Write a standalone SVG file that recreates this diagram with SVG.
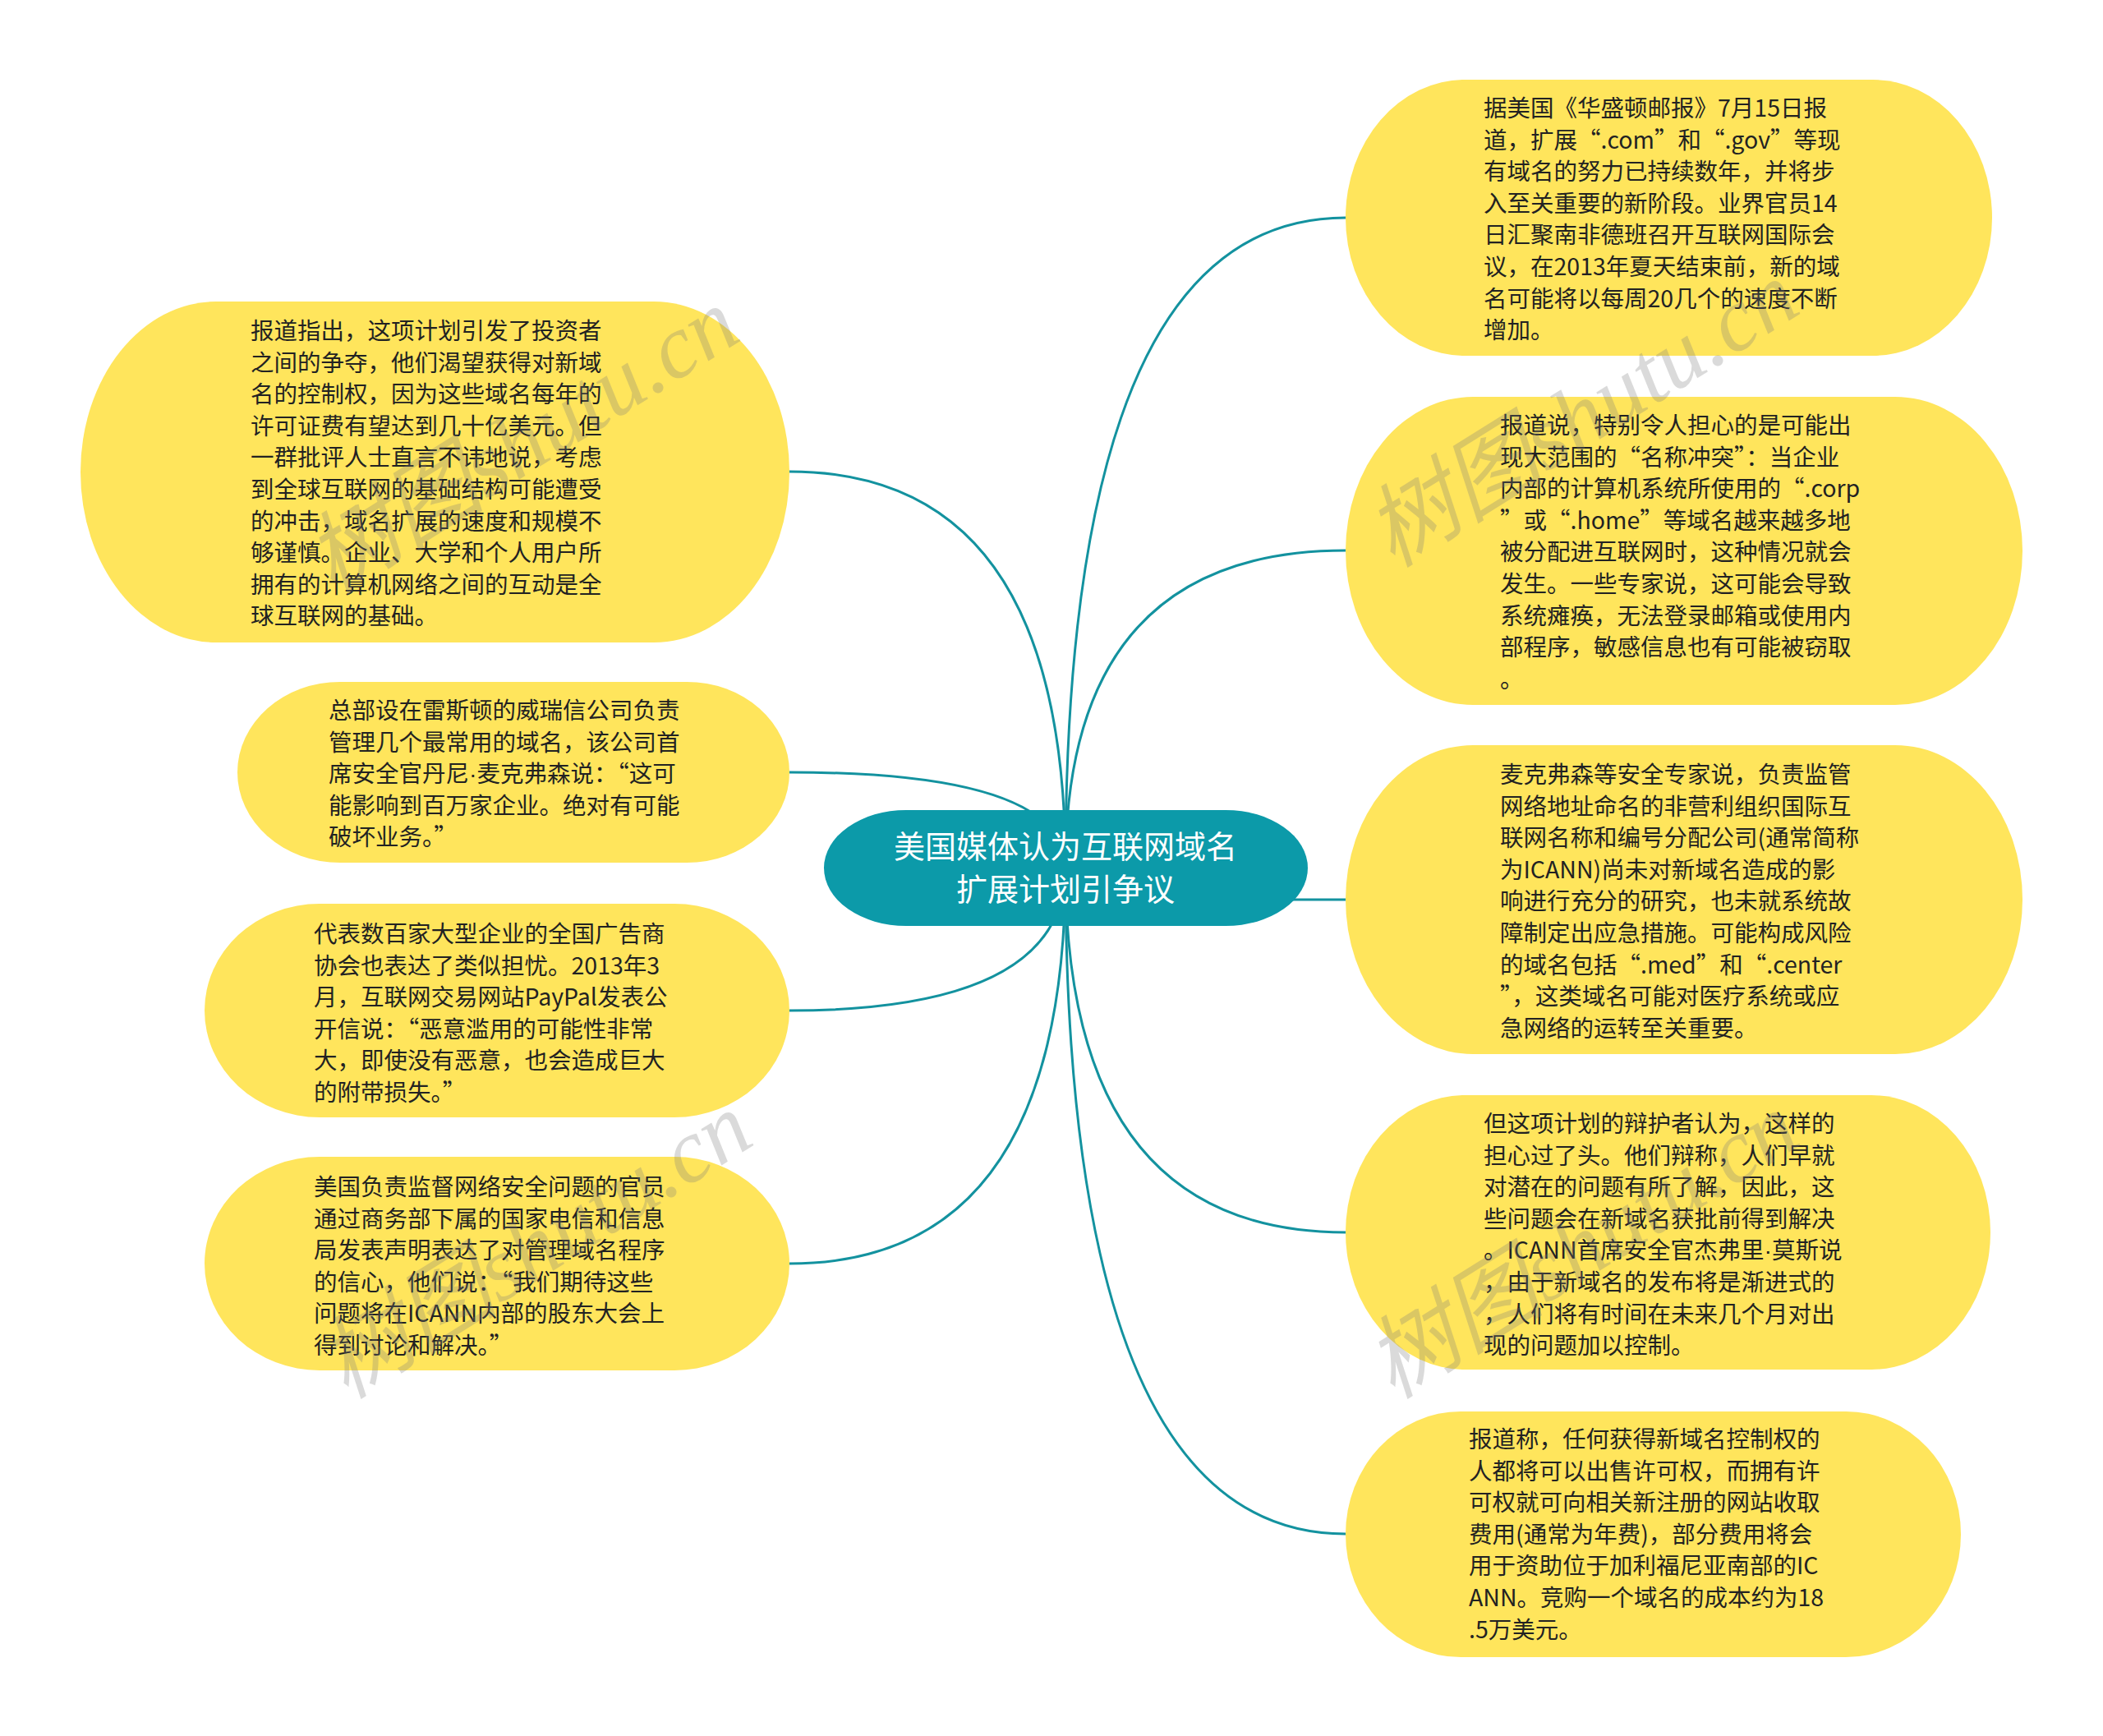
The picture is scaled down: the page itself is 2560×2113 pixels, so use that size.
<svg xmlns="http://www.w3.org/2000/svg" width="2560" height="2113" viewBox="0 0 2560 2113">
<style>
.bg{fill:#ffffff}
.edge{fill:none;stroke:#13929F;stroke-width:3}
.leaf{fill:#FFE55C}
.root{fill:#0C9AA9}
.t{font-family:"Noto Sans CJK SC","Microsoft YaHei",sans-serif;font-size:28.5px;fill:#222222}
.dot{font-family:"Liberation Sans",sans-serif}
.rt{font-family:"Noto Sans CJK SC","Microsoft YaHei",sans-serif;font-size:38px;fill:#ffffff;text-anchor:middle}
.wm{font-family:"Liberation Serif","Noto Sans CJK SC",serif;font-style:italic;font-size:110px;fill:#7a7a7a;fill-opacity:0.28}
</style>
<rect class="bg" x="0" y="0" width="2560" height="2113"/>
<g id="connectors">
<path class="edge" d="M1297 1056 Q1297 265 1638 265"/>
<path class="edge" d="M1297 1056 Q1297 670 1638 670"/>
<path class="edge" d="M1297 1095 L1638 1095"/>
<path class="edge" d="M1297 1056 Q1297 1500 1638 1500"/>
<path class="edge" d="M1297 1056 Q1297 1867 1638 1867"/>
<path class="edge" d="M1297 1056 Q1297 574 961 574"/>
<path class="edge" d="M1297 1056 Q1297 940 961 940"/>
<path class="edge" d="M1297 1056 Q1297 1230 961 1230"/>
<path class="edge" d="M1297 1056 Q1297 1538 961 1538"/>
</g>
<g id="root">
<rect class="root" x="1003" y="986" width="589" height="141" rx="100" ry="70.5"/>
<text class="rt" x="1297" y="1044">美国媒体认为互联网域名</text>
<text class="rt" x="1297" y="1096">扩展计划引争议</text>
</g>
<g id="r1">
<rect class="leaf" x="1638" y="97" width="787" height="336" rx="145" ry="168"/>
<text class="t"><tspan x="1806" y="142">据美国《华盛顿邮报》7月15日报</tspan><tspan x="1806" y="180.6">道，扩展“.com”和“.gov”等现</tspan><tspan x="1806" y="219.2">有域名的努力已持续数年，并将步</tspan><tspan x="1806" y="257.8">入至关重要的新阶段。业界官员14</tspan><tspan x="1806" y="296.4">日汇聚南非德班召开互联网国际会</tspan><tspan x="1806" y="335">议，在2013年夏天结束前，新的域</tspan><tspan x="1806" y="373.6">名可能将以每周20几个的速度不断</tspan><tspan x="1806" y="412.2">增加。</tspan></text>
</g>
<g id="r2">
<rect class="leaf" x="1638" y="483" width="824" height="375" rx="155" ry="187.5"/>
<text class="t"><tspan x="1826" y="528">报道说，特别令人担心的是可能出</tspan><tspan x="1826" y="566.6">现大范围的“名称冲突”：当企业</tspan><tspan x="1826" y="605.2">内部的计算机系统所使用的“.corp</tspan><tspan x="1826" y="643.8">”或“.home”等域名越来越多地</tspan><tspan x="1826" y="682.4">被分配进互联网时，这种情况就会</tspan><tspan x="1826" y="721">发生。一些专家说，这可能会导致</tspan><tspan x="1826" y="759.6">系统瘫痪，无法登录邮箱或使用内</tspan><tspan x="1826" y="798.2">部程序，敏感信息也有可能被窃取</tspan><tspan x="1826" y="836.8">。</tspan></text>
</g>
<g id="r3">
<rect class="leaf" x="1638" y="907" width="824" height="376" rx="155" ry="188"/>
<text class="t"><tspan x="1826" y="953">麦克弗森等安全专家说，负责监管</tspan><tspan x="1826" y="991.6">网络地址命名的非营利组织国际互</tspan><tspan x="1826" y="1030.2">联网名称和编号分配公司(通常简称</tspan><tspan x="1826" y="1068.8">为ICANN)尚未对新域名造成的影</tspan><tspan x="1826" y="1107.4">响进行充分的研究，也未就系统故</tspan><tspan x="1826" y="1146">障制定出应急措施。可能构成风险</tspan><tspan x="1826" y="1184.6">的域名包括“.med”和“.center</tspan><tspan x="1826" y="1223.2">”，这类域名可能对医疗系统或应</tspan><tspan x="1826" y="1261.8">急网络的运转至关重要。</tspan></text>
</g>
<g id="r4">
<rect class="leaf" x="1638" y="1333" width="785" height="334" rx="145" ry="167"/>
<text class="t"><tspan x="1806" y="1378">但这项计划的辩护者认为，这样的</tspan><tspan x="1806" y="1416.6">担心过了头。他们辩称，人们早就</tspan><tspan x="1806" y="1455.2">对潜在的问题有所了解，因此，这</tspan><tspan x="1806" y="1493.8">些问题会在新域名获批前得到解决</tspan><tspan x="1806" y="1532.4">。ICANN首席安全官杰弗里<tspan class="dot">·</tspan>莫斯说</tspan><tspan x="1806" y="1571">，由于新域名的发布将是渐进式的</tspan><tspan x="1806" y="1609.6">，人们将有时间在未来几个月对出</tspan><tspan x="1806" y="1648.2">现的问题加以控制。</tspan></text>
</g>
<g id="r5">
<rect class="leaf" x="1638" y="1718" width="749" height="299" rx="140" ry="149.5"/>
<text class="t"><tspan x="1788" y="1762">报道称，任何获得新域名控制权的</tspan><tspan x="1788" y="1800.6">人都将可以出售许可权，而拥有许</tspan><tspan x="1788" y="1839.2">可权就可向相关新注册的网站收取</tspan><tspan x="1788" y="1877.8">费用(通常为年费)，部分费用将会</tspan><tspan x="1788" y="1916.4">用于资助位于加利福尼亚南部的IC</tspan><tspan x="1788" y="1955">ANN。竞购一个域名的成本约为18</tspan><tspan x="1788" y="1993.6">.5万美元。</tspan></text>
</g>
<g id="l1">
<rect class="leaf" x="98" y="367" width="863" height="415" rx="165" ry="207.5"/>
<text class="t"><tspan x="305" y="413">报道指出，这项计划引发了投资者</tspan><tspan x="305" y="451.6">之间的争夺，他们渴望获得对新域</tspan><tspan x="305" y="490.2">名的控制权，因为这些域名每年的</tspan><tspan x="305" y="528.8">许可证费有望达到几十亿美元。但</tspan><tspan x="305" y="567.4">一群批评人士直言不讳地说，考虑</tspan><tspan x="305" y="606">到全球互联网的基础结构可能遭受</tspan><tspan x="305" y="644.6">的冲击，域名扩展的速度和规模不</tspan><tspan x="305" y="683.2">够谨慎。企业、大学和个人用户所</tspan><tspan x="305" y="721.8">拥有的计算机网络之间的互动是全</tspan><tspan x="305" y="760.4">球互联网的基础。</tspan></text>
</g>
<g id="l2">
<rect class="leaf" x="289" y="830" width="672" height="220" rx="125" ry="110"/>
<text class="t"><tspan x="400" y="875">总部设在雷斯顿的威瑞信公司负责</tspan><tspan x="400" y="913.6">管理几个最常用的域名，该公司首</tspan><tspan x="400" y="952.2">席安全官丹尼<tspan class="dot">·</tspan>麦克弗森说：“这可</tspan><tspan x="400" y="990.8">能影响到百万家企业。绝对有可能</tspan><tspan x="400" y="1029.4">破坏业务。”</tspan></text>
</g>
<g id="l3">
<rect class="leaf" x="249" y="1100" width="712" height="260" rx="140" ry="130"/>
<text class="t"><tspan x="382" y="1147">代表数百家大型企业的全国广告商</tspan><tspan x="382" y="1185.6">协会也表达了类似担忧。2013年3</tspan><tspan x="382" y="1224.2">月，互联网交易网站PayPal发表公</tspan><tspan x="382" y="1262.8">开信说：“恶意滥用的可能性非常</tspan><tspan x="382" y="1301.4">大，即使没有恶意，也会造成巨大</tspan><tspan x="382" y="1340">的附带损失。”</tspan></text>
</g>
<g id="l4">
<rect class="leaf" x="249" y="1408" width="712" height="260" rx="140" ry="130"/>
<text class="t"><tspan x="382" y="1455">美国负责监督网络安全问题的官员</tspan><tspan x="382" y="1493.6">通过商务部下属的国家电信和信息</tspan><tspan x="382" y="1532.2">局发表声明表达了对管理域名程序</tspan><tspan x="382" y="1570.8">的信心，他们说：“我们期待这些</tspan><tspan x="382" y="1609.4">问题将在ICANN内部的股东大会上</tspan><tspan x="382" y="1648">得到讨论和解决。”</tspan></text>
</g>
<g id="watermarks">
<text class="wm" transform="translate(637 539) rotate(-32)" text-anchor="middle" y="35">树图shutu.cn</text>
<text class="wm" transform="translate(1927 506) rotate(-32)" text-anchor="middle" y="35">树图shutu.cn</text>
<text class="wm" transform="translate(653 1518) rotate(-32)" text-anchor="middle" y="35">树图shutu.cn</text>
<text class="wm" transform="translate(1927 1518) rotate(-32)" text-anchor="middle" y="35">树图shutu.cn</text>
</g>
</svg>
